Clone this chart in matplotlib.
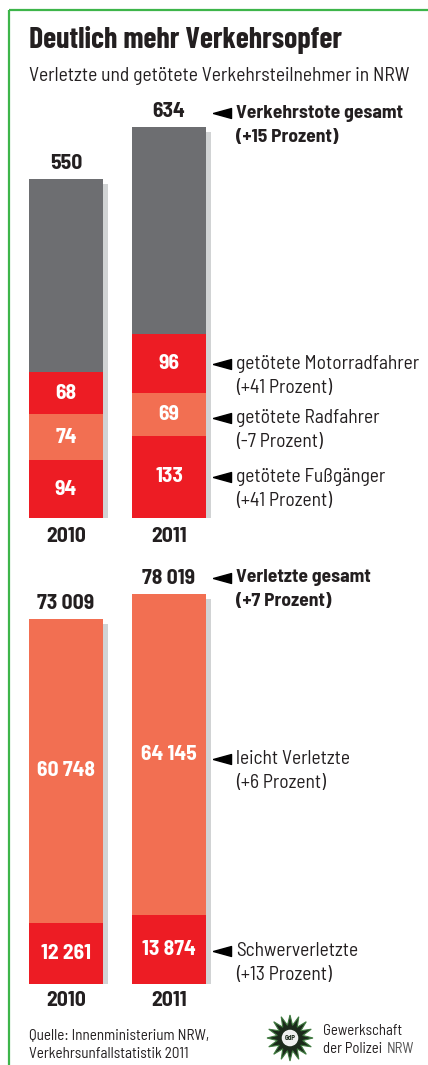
import numpy as np
import matplotlib.pyplot as plt
from matplotlib.transforms import ScaledTranslation
from matplotlib.path import Path
from matplotlib.patches import Polygon, Circle

# Daten
years = ['2010', '2011']
tote_gesamt = [550, 634]
motorrad = [68, 96]
radfahrer = [74, 69]
fussgaenger = [94, 133]
verletzte_gesamt = [73009, 78019]
leicht = [60748, 64145]
schwer = [12261, 13874]

plt.rcParams['font.family'] = ['Barlow Semi Condensed', 'DejaVu Sans']

GRAU = '#6d6e71'
ROT = '#ed1c24'
LACHS = '#f26f52'
SCHATTEN = '#d1d3d4'
TXT = '#231f20'
GRUEN = '#3db54a'

W, H = 428, 1065
fig = plt.figure(figsize=(W / 100, H / 100), dpi=100)

def fy(y):
    return 1 - y / H

def fmt(v):
    return '{:,}'.format(v).replace(',', ' ')

# Overlay in Pixelkoordinaten fuer Texte
ov = fig.add_axes([0, 0, 1, 1])
ov.set_xlim(0, W)
ov.set_ylim(H, 0)
ov.axis('off')

ov.plot([9, 9], [10, H], color=GRUEN, lw=1.6, solid_capstyle='butt')
ov.plot([9, W], [10, 10], color=GRUEN, lw=1.6, solid_capstyle='butt')

ov.text(29, 40, 'Deutlich mehr Verkehrsopfer', fontsize=21.5, fontweight='bold',
        family=['Barlow Condensed', 'DejaVu Sans'], color=TXT, va='center', ha='left')
ov.text(29, 76, 'Verletzte und getötete Verkehrsteilnehmer in NRW', fontsize=14.1,
        color=TXT, va='center', ha='left')

xpos = [66, 169]
bw = 74
NUM = 15.5

def stapel(top_px, base_px, ymax, segs, farben, gesamt):
    ax = fig.add_axes([0, fy(base_px), 1, (base_px - top_px) / H])
    ax.set_xlim(0, W)
    ax.set_ylim(0, ymax)
    ax.axis('off')
    shadow = ax.transData + ScaledTranslation(5 / 100, -5 / 100, fig.dpi_scale_trans)
    ax.bar(xpos, gesamt, width=bw, color=SCHATTEN, transform=shadow, zorder=1)
    bottom = np.zeros(len(xpos))
    for vals, col in zip(segs, farben):
        ax.bar(xpos, vals, width=bw, bottom=bottom, color=col, zorder=2)
        if col != GRAU:
            for x, b, v in zip(xpos, bottom, vals):
                ax.text(x, b + v / 2, fmt(v), ha='center', va='center',
                        color='white', fontweight='bold', fontsize=NUM, zorder=3)
        bottom = bottom + np.array(vals)
    for x, g in zip(xpos, gesamt):
        ax.annotate(fmt(g), (x, g), xytext=(0, 4), textcoords='offset points',
                    ha='center', va='bottom', fontsize=NUM, fontweight='bold', color=TXT)
    return ax

rest = [g - a - b - c for g, a, b, c in zip(tote_gesamt, motorrad, radfahrer, fussgaenger)]
stapel(127, 518, max(tote_gesamt), [fussgaenger, radfahrer, motorrad, rest],
       [ROT, LACHS, ROT, GRAU], tote_gesamt)
stapel(594, 984, max(verletzte_gesamt), [schwer, leicht], [ROT, LACHS], verletzte_gesamt)

for y0 in [536, 1001]:
    for x, j in zip(xpos, years):
        ov.text(x, y0, j, ha='center', va='center', fontsize=NUM, fontweight='bold', color=TXT)

pfeil = Path([(-1, 0), (1, 0.55), (1, -0.55), (-1, 0)])

labels = [
    (113, 'Verkehrstote gesamt', '(+15 Prozent)', 'bold'),
    (364, 'getötete Motorradfahrer', '(+41 Prozent)', 'normal'),
    (418, 'getötete Radfahrer', '(-7 Prozent)', 'normal'),
    (477, 'getötete Fußgänger', '(+41 Prozent)', 'normal'),
    (578, 'Verletzte gesamt', '(+7 Prozent)', 'bold'),
    (759, 'leicht Verletzte', '(+6 Prozent)', 'normal'),
    (951, 'Schwerverletzte', '(+13 Prozent)', 'normal'),
]
for y, l1, l2, fw in labels:
    ov.plot(222, y, marker=pfeil, markersize=13, color='black', ls='none')
    ov.text(236, y, l1, fontsize=14, fontweight=fw, color=TXT, va='center', ha='left')
    ov.text(236, y + 24, l2, fontsize=14, fontweight=fw, color=TXT, va='center', ha='left')

ov.text(29, 1035, 'Quelle: Innenministerium NRW,', fontsize=10.9, color=TXT, va='center')
ov.text(29, 1054, 'Verkehrsunfallstatistik 2011', fontsize=10.9, color=TXT, va='center')

# Logo
cx, cy = 290, 1038
ang = np.linspace(0, 2 * np.pi, 33)[:-1] + np.pi / 2
rad = np.where(np.arange(32) % 2 == 0, 23, 13)
stern = np.column_stack([cx + rad * np.cos(ang), cy - rad * np.sin(ang)])
ov.add_patch(Polygon(stern, closed=True, facecolor='#1c2a1c', edgecolor='#3f7a3f', lw=0.8))
ov.add_patch(Circle((cx, cy), 9, facecolor='#f0f0f0', edgecolor='#1c2a1c', lw=1))
ov.text(cx, cy, 'GdP', fontsize=5, ha='center', va='center', color='#1c2a1c', fontweight='bold')
ov.text(323, 1031, 'Gewerkschaft', fontsize=10.6, color=TXT, va='center')
t = ov.text(323, 1049, 'der Polizei', fontsize=10.6, color=TXT, va='center')
ov.annotate('NRW', xy=(1, 0.5), xycoords=t, xytext=(3, 0), textcoords='offset points',
            fontsize=10.6, color='#555555', va='center', ha='left')

fig.savefig('out.png', dpi=100)
